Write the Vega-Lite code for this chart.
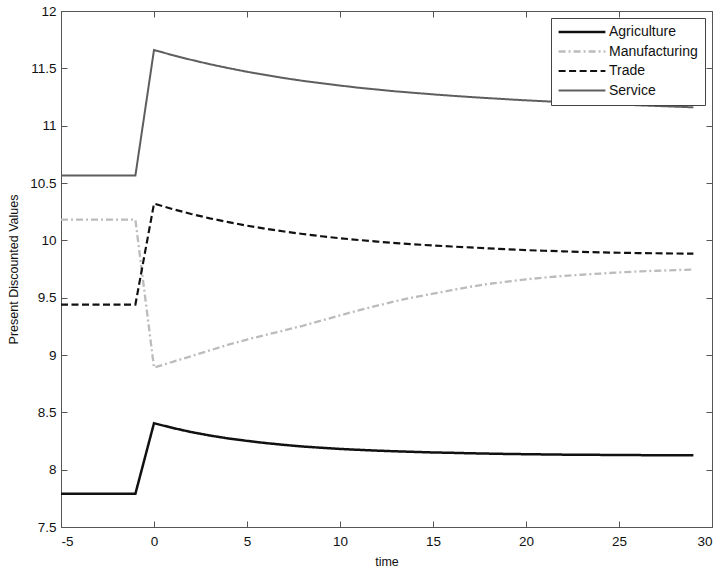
{
  "$schema": "https://vega.github.io/schema/vega-lite/v6.json",
  "width": 651,
  "height": 516,
  "autosize": "none",
  "padding": {"left": 61, "top": 11, "right": 16, "bottom": 48},
  "background": "white",
  "config": {
    "view": {"stroke": null},
    "font": "Liberation Sans",
    "axis": {
      "grid": false,
      "domainColor": "#555555",
      "tickColor": "#555555",
      "tickSize": -6,
      "labelColor": "#111111",
      "labelFontSize": 13.5,
      "titleColor": "#111111",
      "titleFontSize": 12.5,
      "titleFontWeight": "normal",
      "labelFont": "Liberation Sans",
      "titleFont": "Liberation Sans"
    }
  },
  "data": {
    "values": [
      {"t": -5, "sector": "Agriculture", "v": 7.79}, {"t": -4, "sector": "Agriculture", "v": 7.79}, {"t": -3, "sector": "Agriculture", "v": 7.79}, {"t": -2, "sector": "Agriculture", "v": 7.79}, {"t": -1, "sector": "Agriculture", "v": 7.79},
      {"t": 0, "sector": "Agriculture", "v": 8.405}, {"t": 1, "sector": "Agriculture", "v": 8.364}, {"t": 2, "sector": "Agriculture", "v": 8.328}, {"t": 3, "sector": "Agriculture", "v": 8.298}, {"t": 4, "sector": "Agriculture", "v": 8.272},
      {"t": 5, "sector": "Agriculture", "v": 8.251}, {"t": 6, "sector": "Agriculture", "v": 8.232}, {"t": 7, "sector": "Agriculture", "v": 8.216}, {"t": 8, "sector": "Agriculture", "v": 8.202}, {"t": 9, "sector": "Agriculture", "v": 8.191},
      {"t": 10, "sector": "Agriculture", "v": 8.181}, {"t": 11, "sector": "Agriculture", "v": 8.173}, {"t": 12, "sector": "Agriculture", "v": 8.166}, {"t": 13, "sector": "Agriculture", "v": 8.16}, {"t": 14, "sector": "Agriculture", "v": 8.155},
      {"t": 15, "sector": "Agriculture", "v": 8.15}, {"t": 16, "sector": "Agriculture", "v": 8.147}, {"t": 17, "sector": "Agriculture", "v": 8.143}, {"t": 18, "sector": "Agriculture", "v": 8.14}, {"t": 19, "sector": "Agriculture", "v": 8.137},
      {"t": 20, "sector": "Agriculture", "v": 8.135}, {"t": 21, "sector": "Agriculture", "v": 8.133}, {"t": 22, "sector": "Agriculture", "v": 8.131}, {"t": 23, "sector": "Agriculture", "v": 8.13}, {"t": 24, "sector": "Agriculture", "v": 8.129},
      {"t": 25, "sector": "Agriculture", "v": 8.128}, {"t": 26, "sector": "Agriculture", "v": 8.127}, {"t": 27, "sector": "Agriculture", "v": 8.126}, {"t": 28, "sector": "Agriculture", "v": 8.126}, {"t": 29, "sector": "Agriculture", "v": 8.125},

      {"t": -5, "sector": "Manufacturing", "v": 10.18}, {"t": -4, "sector": "Manufacturing", "v": 10.18}, {"t": -3, "sector": "Manufacturing", "v": 10.18}, {"t": -2, "sector": "Manufacturing", "v": 10.18}, {"t": -1, "sector": "Manufacturing", "v": 10.18},
      {"t": 0, "sector": "Manufacturing", "v": 8.89}, {"t": 1, "sector": "Manufacturing", "v": 8.94}, {"t": 2, "sector": "Manufacturing", "v": 8.99}, {"t": 3, "sector": "Manufacturing", "v": 9.04}, {"t": 4, "sector": "Manufacturing", "v": 9.09},
      {"t": 5, "sector": "Manufacturing", "v": 9.135}, {"t": 6, "sector": "Manufacturing", "v": 9.175}, {"t": 7, "sector": "Manufacturing", "v": 9.215}, {"t": 8, "sector": "Manufacturing", "v": 9.255}, {"t": 9, "sector": "Manufacturing", "v": 9.3},
      {"t": 10, "sector": "Manufacturing", "v": 9.345}, {"t": 11, "sector": "Manufacturing", "v": 9.39}, {"t": 12, "sector": "Manufacturing", "v": 9.43}, {"t": 13, "sector": "Manufacturing", "v": 9.47}, {"t": 14, "sector": "Manufacturing", "v": 9.505},
      {"t": 15, "sector": "Manufacturing", "v": 9.535}, {"t": 16, "sector": "Manufacturing", "v": 9.565}, {"t": 17, "sector": "Manufacturing", "v": 9.595}, {"t": 18, "sector": "Manufacturing", "v": 9.62}, {"t": 19, "sector": "Manufacturing", "v": 9.64},
      {"t": 20, "sector": "Manufacturing", "v": 9.66}, {"t": 21, "sector": "Manufacturing", "v": 9.675}, {"t": 22, "sector": "Manufacturing", "v": 9.69}, {"t": 23, "sector": "Manufacturing", "v": 9.7}, {"t": 24, "sector": "Manufacturing", "v": 9.71},
      {"t": 25, "sector": "Manufacturing", "v": 9.72}, {"t": 26, "sector": "Manufacturing", "v": 9.728}, {"t": 27, "sector": "Manufacturing", "v": 9.735}, {"t": 28, "sector": "Manufacturing", "v": 9.74}, {"t": 29, "sector": "Manufacturing", "v": 9.745},

      {"t": -5, "sector": "Trade", "v": 9.44}, {"t": -4, "sector": "Trade", "v": 9.44}, {"t": -3, "sector": "Trade", "v": 9.44}, {"t": -2, "sector": "Trade", "v": 9.44}, {"t": -1, "sector": "Trade", "v": 9.44},
      {"t": 0, "sector": "Trade", "v": 10.32}, {"t": 1, "sector": "Trade", "v": 10.273}, {"t": 2, "sector": "Trade", "v": 10.23}, {"t": 3, "sector": "Trade", "v": 10.192}, {"t": 4, "sector": "Trade", "v": 10.159},
      {"t": 5, "sector": "Trade", "v": 10.128}, {"t": 6, "sector": "Trade", "v": 10.101}, {"t": 7, "sector": "Trade", "v": 10.077}, {"t": 8, "sector": "Trade", "v": 10.055}, {"t": 9, "sector": "Trade", "v": 10.036},
      {"t": 10, "sector": "Trade", "v": 10.018}, {"t": 11, "sector": "Trade", "v": 10.003}, {"t": 12, "sector": "Trade", "v": 9.989}, {"t": 13, "sector": "Trade", "v": 9.976}, {"t": 14, "sector": "Trade", "v": 9.965},
      {"t": 15, "sector": "Trade", "v": 9.955}, {"t": 16, "sector": "Trade", "v": 9.946}, {"t": 17, "sector": "Trade", "v": 9.938}, {"t": 18, "sector": "Trade", "v": 9.93}, {"t": 19, "sector": "Trade", "v": 9.922},
      {"t": 20, "sector": "Trade", "v": 9.915}, {"t": 21, "sector": "Trade", "v": 9.909}, {"t": 22, "sector": "Trade", "v": 9.904}, {"t": 23, "sector": "Trade", "v": 9.899}, {"t": 24, "sector": "Trade", "v": 9.895},
      {"t": 25, "sector": "Trade", "v": 9.892}, {"t": 26, "sector": "Trade", "v": 9.889}, {"t": 27, "sector": "Trade", "v": 9.887}, {"t": 28, "sector": "Trade", "v": 9.885}, {"t": 29, "sector": "Trade", "v": 9.884},

      {"t": -5, "sector": "Service", "v": 10.565}, {"t": -4, "sector": "Service", "v": 10.565}, {"t": -3, "sector": "Service", "v": 10.565}, {"t": -2, "sector": "Service", "v": 10.565}, {"t": -1, "sector": "Service", "v": 10.565},
      {"t": 0, "sector": "Service", "v": 11.66}, {"t": 1, "sector": "Service", "v": 11.615}, {"t": 2, "sector": "Service", "v": 11.574}, {"t": 3, "sector": "Service", "v": 11.536}, {"t": 4, "sector": "Service", "v": 11.502},
      {"t": 5, "sector": "Service", "v": 11.47}, {"t": 6, "sector": "Service", "v": 11.442}, {"t": 7, "sector": "Service", "v": 11.415}, {"t": 8, "sector": "Service", "v": 11.391}, {"t": 9, "sector": "Service", "v": 11.37},
      {"t": 10, "sector": "Service", "v": 11.35}, {"t": 11, "sector": "Service", "v": 11.331}, {"t": 12, "sector": "Service", "v": 11.315}, {"t": 13, "sector": "Service", "v": 11.299}, {"t": 14, "sector": "Service", "v": 11.286},
      {"t": 15, "sector": "Service", "v": 11.273}, {"t": 16, "sector": "Service", "v": 11.261}, {"t": 17, "sector": "Service", "v": 11.25}, {"t": 18, "sector": "Service", "v": 11.24}, {"t": 19, "sector": "Service", "v": 11.23},
      {"t": 20, "sector": "Service", "v": 11.221}, {"t": 21, "sector": "Service", "v": 11.213}, {"t": 22, "sector": "Service", "v": 11.205}, {"t": 23, "sector": "Service", "v": 11.198}, {"t": 24, "sector": "Service", "v": 11.191},
      {"t": 25, "sector": "Service", "v": 11.185}, {"t": 26, "sector": "Service", "v": 11.178}, {"t": 27, "sector": "Service", "v": 11.172}, {"t": 28, "sector": "Service", "v": 11.166}, {"t": 29, "sector": "Service", "v": 11.16}
    ]
  },
  "layer": [
    {
      "mark": {"type": "line", "strokeCap": "butt", "strokeJoin": "miter"},
      "encoding": {
        "x": {
          "field": "t", "type": "quantitative",
          "scale": {"domain": [-5, 30], "nice": false, "zero": false},
          "axis": {"orient": "bottom", "values": [-5, 0, 5, 10, 15, 20, 25, 30], "labelExpr": "datum.value + ''", "title": "time", "labelPadding": 13, "titlePadding": 8}
        },
        "y": {
          "field": "v", "type": "quantitative",
          "scale": {"domain": [7.5, 12], "nice": false, "zero": false},
          "axis": {"orient": "left", "values": [7.5, 8, 8.5, 9, 9.5, 10, 10.5, 11, 11.5, 12], "labelExpr": "datum.value + ''", "title": "Present Discounted Values", "labelPadding": 11, "titlePadding": 9}
        },
        "color": {
          "field": "sector", "type": "nominal",
          "scale": {"domain": ["Agriculture", "Manufacturing", "Trade", "Service"], "range": ["#111111", "#bcbcbc", "#111111", "#5e5e5e"]},
          "legend": {
            "title": null,
            "orient": "none",
            "legendX": 490,
            "legendY": 7,
            "direction": "vertical",
            "fillColor": "white",
            "strokeColor": "#444444",
            "padding": 7,
            "symbolType": "M-5.2,0H5.2",
            "symbolSize": 81,
            "symbolOffset": 17,
            "labelOffset": 20,
            "labelFontSize": 14,
            "labelColor": "#111111",
            "labelFont": "Liberation Sans",
            "rowPadding": 5.5
          }
        },
        "strokeDash": {
          "field": "sector", "type": "nominal",
          "scale": {"domain": ["Agriculture", "Manufacturing", "Trade", "Service"], "range": [[1, 0], [7, 3, 2, 3], [7, 3.5], [1, 0]]}
        },
        "strokeWidth": {
          "field": "sector", "type": "nominal",
          "scale": {"domain": ["Agriculture", "Manufacturing", "Trade", "Service"], "range": [2.5, 2, 3, 3]}
        }
      }
    },
    {
      "mark": {"type": "point", "opacity": 0},
      "encoding": {
        "x": {"field": "t", "type": "quantitative", "axis": {"orient": "top", "values": [-5, 0, 5, 10, 15, 20, 25, 30], "labels": false, "title": null}},
        "y": {"field": "v", "type": "quantitative", "axis": {"orient": "right", "values": [7.5, 8, 8.5, 9, 9.5, 10, 10.5, 11, 11.5, 12], "labels": false, "title": null}}
      }
    }
  ],
  "resolve": {"axis": {"x": "independent", "y": "independent"}}
}
